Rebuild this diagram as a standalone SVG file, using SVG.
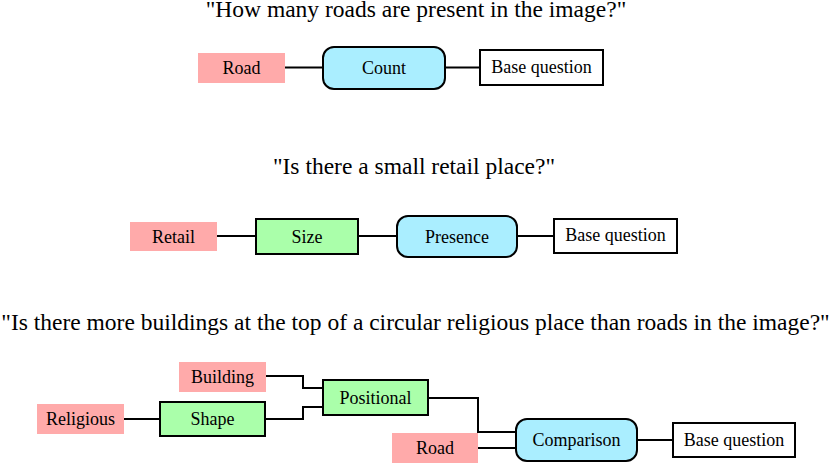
<svg xmlns="http://www.w3.org/2000/svg" width="831" height="463" viewBox="0 0 831 463">
<style>
text{font-family:"Liberation Serif","Times New Roman",serif;fill:#000}
.t{font-size:23.5px;text-anchor:middle}
.l{font-size:18px;text-anchor:middle;dominant-baseline:central}
.pink{fill:#ffaaaa;stroke:none}
.green{fill:#aaffaa;stroke:#000;stroke-width:2}
.blue{fill:#aaeeff;stroke:#000;stroke-width:2}
.white{fill:#fff;stroke:#000;stroke-width:2}
.c{fill:none;stroke:#000;stroke-width:2}
</style>
<rect width="831" height="463" fill="#fff"/>
<text class="t" x="416" y="17">"How many roads are present in the image?"</text>
<text class="t" x="414" y="174">"Is there a small retail place?"</text>
<text class="t" x="415.5" y="330">"Is there more buildings at the top of a circular religious place than roads in the image?"</text>
<g id="connectors">
<path class="c" d="M285 67.5H323M445 67.5H480"/>
<path class="c" d="M217 236H256M358 236H397M517 236H554"/>
<path class="c" d="M266 376H303V388H323M265 419H303V407H323M124 419H160"/>
<path class="c" d="M428 398H478V432H516M478 448H516M637 440H673"/>
</g>
<g id="n1-road"><rect class="pink" x="198" y="53" width="87" height="30"/><text class="l" x="241.5" y="68">Road</text></g>
<g id="n1-count"><rect class="blue" x="323" y="47" width="122" height="42" rx="11"/><text class="l" x="384" y="68">Count</text></g>
<g id="n1-base"><rect class="white" x="480" y="50" width="123" height="35"/><text class="l" x="541.5" y="67">Base question</text></g>
<g id="n2-retail"><rect class="pink" x="130" y="222" width="87" height="29"/><text class="l" x="173.5" y="237">Retail</text></g>
<g id="n2-size"><rect class="green" x="256" y="219" width="102" height="35"/><text class="l" x="307" y="237">Size</text></g>
<g id="n2-presence"><rect class="blue" x="397" y="216" width="120" height="41" rx="11"/><text class="l" x="457" y="237">Presence</text></g>
<g id="n2-base"><rect class="white" x="554" y="219" width="123" height="34"/><text class="l" x="615.5" y="235">Base question</text></g>
<g id="n3-building"><rect class="pink" x="179" y="362" width="87" height="30"/><text class="l" x="222.5" y="377">Building</text></g>
<g id="n3-religious"><rect class="pink" x="37" y="404" width="87" height="30"/><text class="l" x="80.5" y="419">Religious</text></g>
<g id="n3-shape"><rect class="green" x="160" y="402" width="105" height="34"/><text class="l" x="212.5" y="419">Shape</text></g>
<g id="n3-positional"><rect class="green" x="323" y="380" width="105" height="35"/><text class="l" x="375.5" y="398">Positional</text></g>
<g id="n3-road"><rect class="pink" x="392" y="433" width="86" height="30"/><text class="l" x="435" y="448">Road</text></g>
<g id="n3-comparison"><rect class="blue" x="516" y="419" width="121" height="42" rx="11"/><text class="l" x="576.5" y="440">Comparison</text></g>
<g id="n3-base"><rect class="white" x="673" y="423" width="122" height="34"/><text class="l" x="734" y="440">Base question</text></g>
</svg>
